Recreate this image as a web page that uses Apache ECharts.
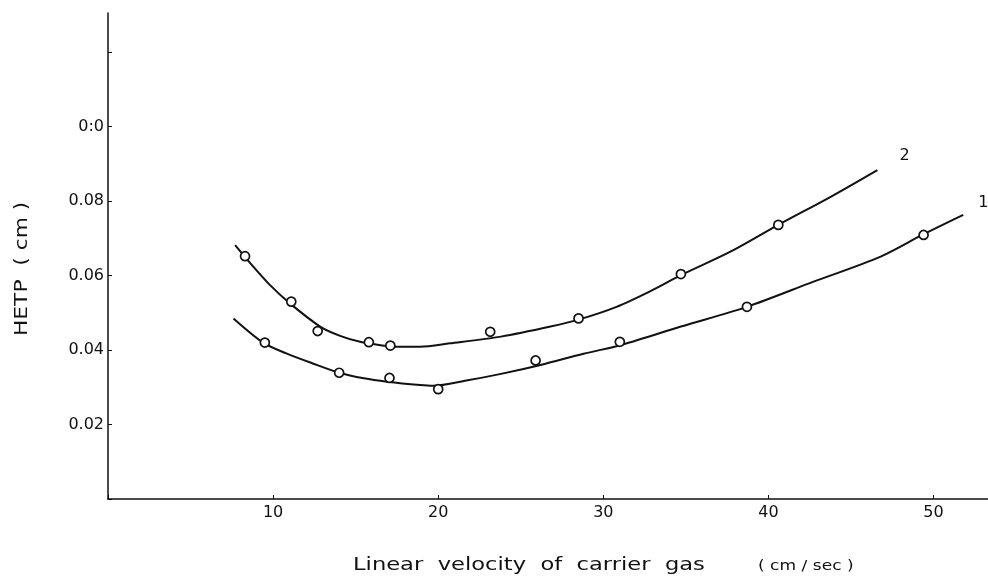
<!DOCTYPE html>
<html><head><meta charset="utf-8">
<script src="https://cdn.jsdelivr.net/npm/echarts@6/dist/echarts.min.js"></script>
<style>html,body{margin:0;padding:0;background:#fff}#c{width:988px;height:579px}</style>
</head><body><div id="c"></div>
<script>
// measured points (hollow circles)
var pts1X = [9.5, 14.0, 17.05, 20.0, 25.9, 31.0, 38.7, 49.4];
var pts1Y = [0.0420, 0.0339, 0.0325, 0.0295, 0.0372, 0.0422, 0.0516, 0.0709];
var pts2X = [8.3, 11.1, 12.7, 15.8, 17.1, 23.15, 28.5, 34.7, 40.6];
var pts2Y = [0.0652, 0.0530, 0.0451, 0.0421, 0.0412, 0.0449, 0.0485, 0.0604, 0.0736];
// fitted curves
var curve1X = [7.6, 9.4, 10.8, 12.4, 14.0, 15.5, 16.9, 18.9, 19.7, 21.7, 23.8, 26.2, 28.8, 31.2, 34.7, 38.7, 42.7, 46.8, 49.4, 51.8];
var curve1Y = [0.0485, 0.0420, 0.0391, 0.0364, 0.0339, 0.0324, 0.0315, 0.0306, 0.0304, 0.0318, 0.0336, 0.0360, 0.0390, 0.0415, 0.0463, 0.0516, 0.0583, 0.0651, 0.0711, 0.0763];
var curve2X = [7.7, 8.8, 9.8, 11.0, 12.85, 14.06, 15.27, 16.5, 17.7, 18.9, 20.7, 23.8, 26.8, 28.6, 30.8, 32.8, 34.7, 37.7, 40.6, 43.8, 46.6];
var curve2Y = [0.0682, 0.0624, 0.0575, 0.0526, 0.0463, 0.0438, 0.0422, 0.0413, 0.0409, 0.0409, 0.0418, 0.0436, 0.0463, 0.0483, 0.0516, 0.0557, 0.0601, 0.0664, 0.0736, 0.0812, 0.0883];
var yTickLabels = {"0.02": "0.02", "0.04": "0.04", "0.06": "0.06", "0.08": "0.08", "0.1": "0:0"};
var xTickLabels = ["10", "20", "30", "40", "50"];
var curveNames = ["1", "2"];

function zip(a, b) { return a.map(function (v, i) { return [v, b[i]]; }); }

var chart = echarts.init(document.getElementById('c'));
var font = 'DejaVu Sans';
var ptStyle = { color: '#fff', borderColor: '#111', borderWidth: 1.7, opacity: 1 };
chart.setOption({
  animation: false,
  backgroundColor: '#fff',
  grid: { left: 108, right: 0, top: 13, bottom: 80 },
  xAxis: {
    type: 'value', min: 0, max: 53.3, interval: 10,
    axisLine: { show: true, onZero: false, lineStyle: { color: '#111', width: 1.5 } },
    axisTick: { show: true, inside: true, length: 4, lineStyle: { color: '#111' } },
    splitLine: { show: false },
    axisLabel: {
      color: '#111', fontFamily: font, fontSize: 16, margin: 6,
      showMaxLabel: false,
      formatter: function (v) { var s = String(v); return xTickLabels.indexOf(s) >= 0 ? s : ''; }
    }
  },
  yAxis: {
    type: 'value', min: 0, max: 0.1305, interval: 0.02,
    axisLine: { show: true, lineStyle: { color: '#111', width: 1.5 } },
    axisTick: { show: true, inside: true, length: 4, lineStyle: { color: '#111' } },
    splitLine: { show: false },
    axisLabel: {
      color: '#111', fontFamily: font, fontSize: 16, margin: 4, showMaxLabel: false,
      formatter: function (v) { var k = String(+v.toFixed(2)); return yTickLabels[k] || ''; }
    }
  },
  graphic: [
    { type: 'text', x: 353, y: 557, scaleX: 1.33, style: { text: 'Linear  velocity  of  carrier  gas', font: '17px "DejaVu Sans"', fill: '#111' } },
    { type: 'text', x: 758, y: 559, scaleX: 1.22, style: { text: '( cm / sec )', font: '14px "DejaVu Sans"', fill: '#111' } },
    { type: 'text', x: 14, y: 336, rotation: Math.PI / 2, scaleX: 1.28, style: { text: 'HETP  ( cm )', font: '17px "DejaVu Sans"', fill: '#111' } }
  ],
  series: [
    { type: 'line', name: curveNames[0], data: zip(curve1X, curve1Y), smooth: 0.3, symbol: 'none',
      lineStyle: { color: '#111', width: 2 },
      endLabel: { show: true, formatter: curveNames[0], color: '#111', fontFamily: font, fontSize: 16, offset: [7, -12] } },
    { type: 'line', name: curveNames[1], data: zip(curve2X, curve2Y), smooth: 0.3, symbol: 'none',
      lineStyle: { color: '#111', width: 2 },
      endLabel: { show: true, formatter: curveNames[1], color: '#111', fontFamily: font, fontSize: 16, offset: [14, -14] } },
    { type: 'scatter', data: zip(pts1X, pts1Y), symbol: 'circle', symbolSize: 9, itemStyle: ptStyle, z: 5 },
    { type: 'scatter', data: zip(pts2X, pts2Y), symbol: 'circle', symbolSize: 9, itemStyle: ptStyle, z: 5 }
  ]
});
</script></body></html>
